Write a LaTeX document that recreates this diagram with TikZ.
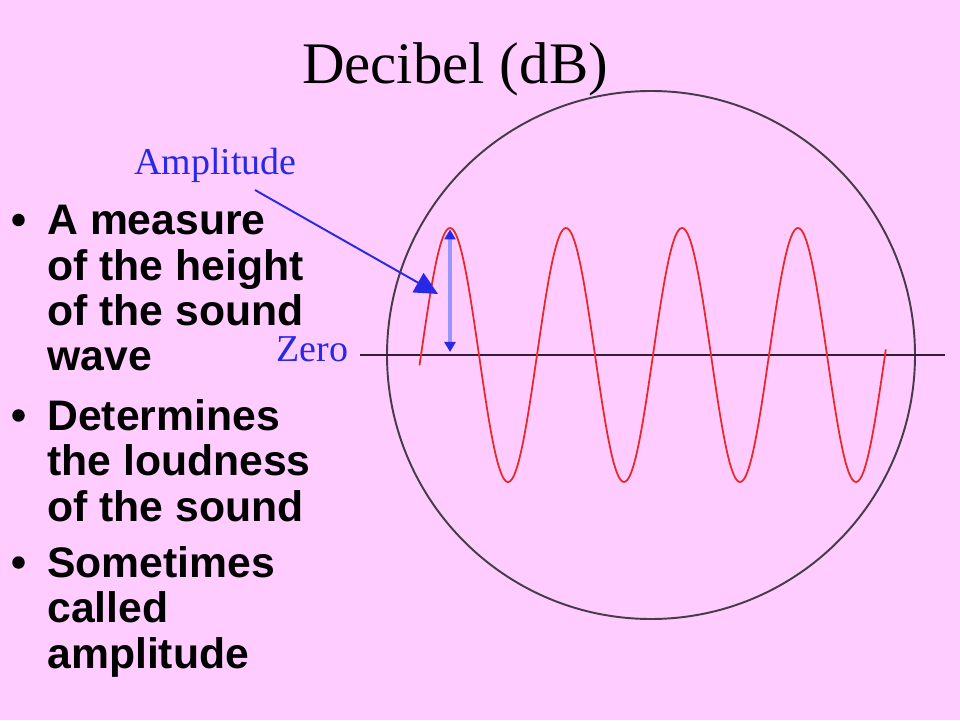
\documentclass[tikz,border=0pt]{standalone}
\usepackage{fontspec}
\setmainfont{Liberation Serif}
\setsansfont{Liberation Sans}
\usetikzlibrary{arrows.meta,calc}
\definecolor{slidepink}{RGB}{255,204,255}
\definecolor{wavered}{RGB}{232,40,40}
\definecolor{labelblue}{RGB}{40,40,230}
\definecolor{ampblue}{RGB}{150,150,255}
\definecolor{axisdark}{RGB}{50,30,50}
\definecolor{ringgray}{RGB}{70,60,70}

\begin{document}
\begin{tikzpicture}[>=Latex, line join=round,
  bulletitem/.style={anchor=base west, inner sep=0pt, align=left,
    font=\sffamily\bfseries\fontsize{24.3}{25.8}\selectfont},
  bulletdot/.style={circle, fill=black, inner sep=0pt, minimum size=0.25cm},
  bluelabel/.style={anchor=base, inner sep=0pt, text=labelblue,
    font=\fontsize{21.6}{24}\selectfont}]

% ============ SLIDE BACKGROUND ============
\fill[slidepink] (0,0) rectangle (19.2,14.4);
\useasboundingbox (0,0) rectangle (19.2,14.4);

% ============ TITLE ============
\node[anchor=base, inner sep=0pt, font=\fontsize{33.5}{40}\selectfont] (title) at (9.10,12.72) {Decibel (dB)};

% ============ BULLET LIST ============
% anchored at the baseline of each item's last line
\node[bulletitem] (item1) at (0.94,6.98) {A measure\\of the height\\of the sound\\wave};
\node[bulletitem] (item2) at (0.94,3.98) {Determines\\the loudness\\of the sound};
\node[bulletitem] (item3) at (0.94,1.04) {Sometimes\\called\\amplitude};
\foreach \i/\n in {1/3,2/2,3/2}
  \node[bulletdot] (dot\i) at ($(item\i.base west)+(-0.57,0.29+\n*0.91)$) {};

% ============ SCOPE CIRCLE + ZERO LINE ============
\coordinate (Ccen) at (13.02,7.30);
\draw[ringgray, line width=1.1pt] (Ccen) circle (5.28);
\coordinate (zeroL) at (7.20,7.30);
\coordinate (zeroR) at (18.90,7.30);
\draw[axisdark, line width=1.1pt] (zeroL) -- (zeroR);

% ============ SOUND WAVE ============
\draw[wavered, line width=1pt, smooth, samples=320, domain=8.39:17.72]
  plot (\x, {7.30+2.54*sin(360*(\x-8.42)/2.32)});

% amplitude marker, crest down to the zero line
\coordinate (crest) at (9.00,9.81);
\coordinate (crestfoot) at (9.00,7.36);
\draw[ampblue, line width=2.2pt,
  {Triangle[color=labelblue,length=0.2cm,width=0.22cm]}-{Triangle[color=labelblue,length=0.2cm,width=0.22cm]}]
  (crest) -- (crestfoot);

% ============ LABELS ============
\node[bluelabel] (amp) at (4.31,10.90) {Amplitude};
\node[bluelabel] (zero) at (6.25,7.16) {Zero};

% pointer from the label to the wave
\coordinate (ampfrom) at (5.10,10.60);
\coordinate (amptip) at (8.76,8.52);
\draw[labelblue, line width=1.1pt, -{Triangle[length=0.46cm,width=0.44cm]}] (ampfrom) -- (amptip);
\end{tikzpicture}
\end{document}
